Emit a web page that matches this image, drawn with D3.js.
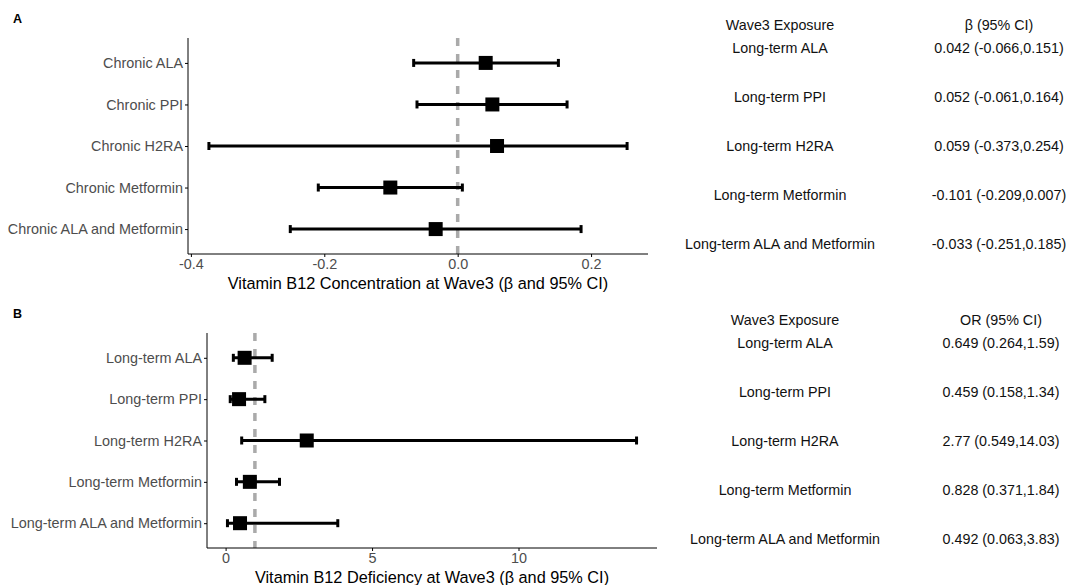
<!DOCTYPE html>
<html>
<head>
  <meta charset="utf-8">
  <script src="https://d3js.org/d3.v7.min.js"></script>
  <style>
    body { margin: 0; background: #fff; }
    svg { font-family: "Liberation Sans", Arial, sans-serif; }
    .axis path, .axis line { stroke: #000; }
    .axis text { font-size: 14.4px; fill: #4d4d4d; }
    .axis-title { font-size: 16.3px; fill: #000; text-anchor: middle; }
    .panel-label { font-size: 12.5px; font-weight: bold; }
    .tbl { font-size: 14.3px; fill: #111; text-anchor: middle; }
  </style>
</head>
<body>
  <div id="chart"></div>

  <script>
    // panel A: concentration
    var catsA = ["Chronic ALA", "Chronic PPI", "Chronic H2RA", "Chronic Metformin", "Chronic ALA and Metformin"];
    var estA = [0.042, 0.052, 0.059, -0.101, -0.033];
    var lowA = [-0.066, -0.061, -0.373, -0.209, -0.251];
    var highA = [0.151, 0.164, 0.254, 0.007, 0.185];
    var ticksA = [-0.4, -0.2, 0.0, 0.2];

    // panel B: deficiency
    var catsB = ["Long-term ALA", "Long-term PPI", "Long-term H2RA", "Long-term Metformin", "Long-term ALA and Metformin"];
    var estB = [0.649, 0.459, 2.77, 0.828, 0.492];
    var lowB = [0.264, 0.158, 0.549, 0.371, 0.063];
    var highB = [1.59, 1.34, 14.03, 1.84, 3.83];
    var ticksB = [0, 5, 10];

    // table text
    var tblRows = ["Long-term ALA", "Long-term PPI", "Long-term H2RA", "Long-term Metformin", "Long-term ALA and Metformin"];
    var tblA = ["0.042 (-0.066,0.151)", "0.052 (-0.061,0.164)", "0.059 (-0.373,0.254)", "-0.101 (-0.209,0.007)", "-0.033 (-0.251,0.185)"];
    var tblB = ["0.649 (0.264,1.59)", "0.459 (0.158,1.34)", "2.77 (0.549,14.03)", "0.828 (0.371,1.84)", "0.492 (0.063,3.83)"];

    var svg = d3.select("#chart").append("svg")
      .attr("width", 1069)
      .attr("height", 585);

    // hyphen instead of the unicode minus
    var locale = d3.formatLocale({ decimal: ".", thousands: ",", grouping: [3], currency: ["", ""], minus: "-" });

    function forest(opt) {
      var g = svg.append("g");
      var lo = d3.min(opt.low), hi = d3.max(opt.high);
      var pad = (hi - lo) * 0.05;
      var x = d3.scaleLinear().domain([lo - pad, hi + pad]).range([opt.left, opt.right]);
      var y = d3.scalePoint().domain(opt.cats).range([opt.top, opt.bottom]).padding(0.6);

      // reference line
      g.append("line")
        .attr("x1", x(opt.ref)).attr("x2", x(opt.ref))
        .attr("y1", opt.top).attr("y2", opt.bottom)
        .attr("stroke", "#aaaaaa")
        .attr("stroke-width", 3.5)
        .attr("stroke-dasharray", "8,8");

      var data = opt.cats.map(function(c, i) {
        return { cat: c, est: opt.est[i], low: opt.low[i], high: opt.high[i] };
      });

      var rows = g.selectAll(".row").data(data).enter().append("g");
      rows.append("line")
        .attr("x1", function(d) { return x(d.low); })
        .attr("x2", function(d) { return x(d.high); })
        .attr("y1", function(d) { return y(d.cat); })
        .attr("y2", function(d) { return y(d.cat); })
        .attr("stroke", "#000").attr("stroke-width", 3);
      ["low", "high"].forEach(function(k) {
        rows.append("line")
          .attr("x1", function(d) { return x(d[k]); })
          .attr("x2", function(d) { return x(d[k]); })
          .attr("y1", function(d) { return y(d.cat) - 4; })
          .attr("y2", function(d) { return y(d.cat) + 4; })
          .attr("stroke", "#000").attr("stroke-width", 3);
      });
      rows.append("rect")
        .attr("x", function(d) { return x(d.est) - 7; })
        .attr("y", function(d) { return y(d.cat) - 7; })
        .attr("width", 14).attr("height", 14)
        .attr("fill", "#000");

      g.append("g").attr("class", "axis")
        .attr("transform", "translate(0," + opt.bottom + ")")
        .call(d3.axisBottom(x).tickValues(opt.ticks).tickSize(3).tickPadding(2)
          .tickFormat(opt.fmt))
        .call(function(a) { a.select(".domain").attr("d", "M" + opt.left + ",0H" + opt.right); });

      g.append("g").attr("class", "axis")
        .attr("transform", "translate(" + opt.left + ",0)")
        .call(d3.axisLeft(y).tickSize(3).tickPadding(2))
        .call(function(a) { a.select(".domain").attr("d", "M0," + opt.top + "V" + opt.bottom); });

      g.append("text").attr("class", "axis-title")
        .attr("x", (opt.left + opt.right) / 2)
        .attr("y", opt.bottom + 35)
        .text(opt.title);

      g.append("text").attr("class", "panel-label")
        .attr("x", 13).attr("y", opt.top - 15)
        .text(opt.label);
    }

    forest({
      cats: catsA, est: estA, low: lowA, high: highA, ticks: ticksA, ref: 0,
      left: 188, right: 648, top: 38, bottom: 254,
      fmt: locale.format(".1f"),
      title: "Vitamin B12 Concentration at Wave3 (β and 95% CI)", label: "A"
    });

    forest({
      cats: catsB, est: estB, low: lowB, high: highB, ticks: ticksB, ref: 1,
      left: 207, right: 657, top: 333, bottom: 548,
      fmt: locale.format("d"),
      title: "Vitamin B12 Deficiency at Wave3 (β and 95% CI)", label: "B"
    });

    function table(top, header, vals, cx1, cx2) {
      var g = svg.append("g");
      g.append("text").attr("class", "tbl").attr("x", cx1).attr("y", top).text("Wave3 Exposure");
      g.append("text").attr("class", "tbl").attr("x", cx2).attr("y", top).text(header);
      g.selectAll(".r").data(tblRows).enter().append("text")
        .attr("class", "tbl")
        .attr("x", cx1)
        .attr("y", function(d, i) { return top + 23 + i * 49; })
        .text(function(d) { return d; });
      g.selectAll(".v").data(vals).enter().append("text")
        .attr("class", "tbl")
        .attr("x", cx2)
        .attr("y", function(d, i) { return top + 23 + i * 49; })
        .text(function(d) { return d; });
    }

    table(30, "β (95% CI)", tblA, 780, 999);
    table(325, "OR (95% CI)", tblB, 785, 1001);
  </script>
</body>
</html>
